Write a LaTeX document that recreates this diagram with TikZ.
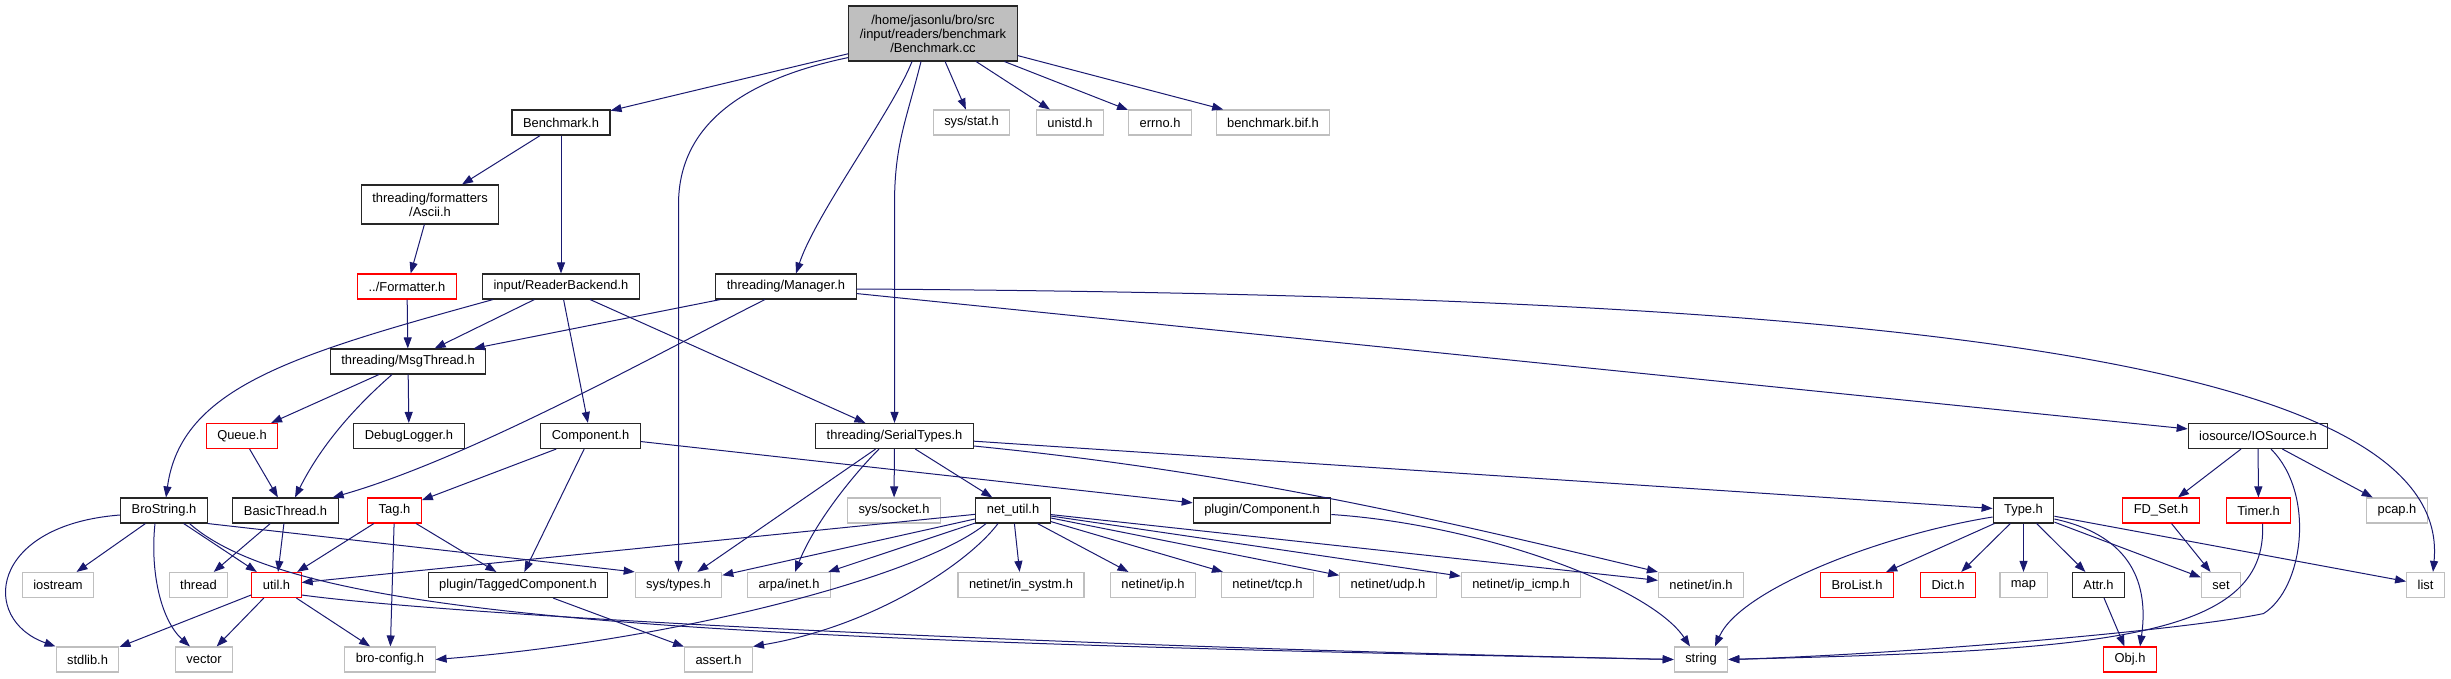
\documentclass[tikz,border=0pt]{standalone}
\usepackage{fontspec}
\setmainfont{Liberation Sans}
\usepackage{tikz}
\usetikzlibrary{arrows.meta, calc}
\definecolor{edgeblue}{RGB}{25, 25, 112}
\definecolor{sysgrey}{RGB}{191, 191, 191}
\definecolor{truncred}{RGB}{255, 0, 0}
\definecolor{srcfill}{RGB}{191, 191, 191}

\begin{document}
\begin{tikzpicture}[x=1pt, y=-1pt]
    % Styles
    \tikzstyle{hdr} = [rectangle, draw, line width=1.1pt, fill=white, minimum height=25pt, inner xsep=11pt, inner ysep=2pt, align=center, font=\fontsize{12.9}{14}\selectfont]
    \tikzstyle{doc} = [hdr, draw=black!85]
    \tikzstyle{trunc} = [hdr, draw=truncred]
    \tikzstyle{sys} = [hdr, draw=sysgrey]
    \tikzstyle{src} = [hdr, draw=black!85, fill=srcfill, minimum height=55pt]
    \tikzstyle{dep} = [draw=edgeblue, line width=1pt, -{Triangle[length=11pt, width=8pt]}]

    \useasboundingbox (0,0) rectangle (2451,679);

    % Nodes
    \node (bcc) [src] at (933, 33.5) {/home/jasonlu/bro/src\\/input/readers/benchmark\\/Benchmark.cc};

    \node (bh) [doc] at (561, 122.5) {Benchmark.h};
    \node (sysstat) [sys] at (971.5, 122.5) {sys/stat.h};
    \node (unistd) [sys] at (1070, 122.5) {unistd.h};
    \node (errno) [sys] at (1160, 122.5) {errno.h};
    \node (bif) [sys] at (1273, 122.5) {benchmark.bif.h};

    \node (ascii) [doc, minimum height=39pt] at (430, 204.5) {threading/formatters\\/Ascii.h};

    \node (formatter) [trunc] at (407, 286.5) {../Formatter.h};
    \node (readerbackend) [doc] at (561, 286.5) {input/ReaderBackend.h};
    \node (manager) [doc] at (786, 286.5) {threading/Manager.h};

    \node (msgthread) [doc] at (408, 361.5) {threading/MsgThread.h};

    \node (queue) [trunc] at (242, 436) {Queue.h};
    \node (debuglogger) [doc] at (409, 436) {DebugLogger.h};
    \node (component) [doc] at (590.5, 436) {Component.h};
    \node (serialtypes) [doc] at (894.5, 436) {threading/SerialTypes.h};
    \node (iosource) [doc] at (2258, 436) {iosource/IOSource.h};

    \node (brostring) [doc] at (164, 510.5) {BroString.h};
    \node (basicthread) [doc] at (285.5, 510.5) {BasicThread.h};
    \node (tag) [trunc] at (394.5, 510.5) {Tag.h};
    \node (syssocket) [sys] at (894, 510.5) {sys/socket.h};
    \node (netutil) [doc] at (1013, 510.5) {net\_util.h};
    \node (plugincomp) [doc] at (1262, 510.5) {plugin/Component.h};
    \node (typeh) [doc] at (2023.5, 510.5) {Type.h};
    \node (fdset) [trunc] at (2161, 510.5) {FD\_Set.h};
    \node (timer) [trunc] at (2258.5, 510.5) {Timer.h};
    \node (pcap) [sys] at (2397, 510.5) {pcap.h};

    \node (iostream) [sys] at (58, 585) {iostream};
    \node (thread) [sys] at (198.5, 585) {thread};
    \node (util) [trunc] at (276.5, 585) {util.h};
    \node (taggedcomp) [doc] at (518, 585) {plugin/TaggedComponent.h};
    \node (systypes) [sys] at (678.5, 585) {sys/types.h};
    \node (arpainet) [sys] at (789, 585) {arpa/inet.h};
    \node (insystm) [sys] at (1021, 585) {netinet/in\_systm.h};
    \node (ip) [sys] at (1153, 585) {netinet/ip.h};
    \node (tcp) [sys] at (1267.5, 585) {netinet/tcp.h};
    \node (udp) [sys] at (1388, 585) {netinet/udp.h};
    \node (ipicmp) [sys] at (1521, 585) {netinet/ip\_icmp.h};
    \node (netin) [sys] at (1701, 585) {netinet/in.h};
    \node (brolist) [trunc] at (1857, 585) {BroList.h};
    \node (dict) [trunc] at (1948, 585) {Dict.h};
    \node (map) [sys] at (2023.5, 585) {map};
    \node (attr) [doc] at (2098.5, 585) {Attr.h};
    \node (set) [sys] at (2221, 585) {set};
    \node (list) [sys] at (2425.5, 585) {list};

    \node (stdlib) [sys] at (87.5, 659.5) {stdlib.h};
    \node (vector) [sys] at (204, 659.5) {vector};
    \node (broconfig) [sys] at (390, 659.5) {bro-config.h};
    \node (assert) [sys] at (718.5, 659.5) {assert.h};
    \node (string) [sys] at (1701, 659.5) {string};
    \node (obj) [trunc] at (2130, 659.5) {Obj.h};

    % Connections
    \draw[dep] (bcc) -- (bh);
    \draw[dep] ($(bcc.south west)+(0,-4)$) .. controls +(-120,25) and +(0,-70) .. (systypes.north |- ascii.center) -- (systypes.north);
    \draw[dep] ($(bcc.south)+(-21,0)$) .. controls +(-20,50) and +(20,-60) .. ($(manager.north)+(10,0)$);
    \draw[dep] ($(bcc.south)+(-12,0)$) .. controls +(-15,60) and +(0,-60) .. (serialtypes.north |- ascii.center) -- (serialtypes.north);
    \draw[dep] (bcc) -- (sysstat);
    \draw[dep] (bcc) -- (unistd);
    \draw[dep] (bcc) -- (errno);
    \draw[dep] (bcc) -- (bif);

    \draw[dep] (bh) -- (ascii);
    \draw[dep] (bh) -- (readerbackend);
    \draw[dep] (ascii) -- (formatter);
    \draw[dep] (formatter) -- (msgthread);

    \draw[dep] ($(readerbackend.south west)+(11,0)$) .. controls +(-200,55) and +(15,-110) .. ($(brostring.north)+(2,0)$);
    \draw[dep] (readerbackend) -- (msgthread);
    \draw[dep] (readerbackend) -- (component);
    \draw[dep] (readerbackend) -- (serialtypes);

    \draw[dep] (manager) -- (msgthread);
    \draw[dep] ($(manager.south)+(-21,0)$) .. controls +(-100,50) and +(140,-40) .. ($(basicthread.north east)+(-6,0)$);
    \draw[dep] (manager) -- (iosource);
    \draw[dep] ($(manager.east)+(0,2.5)$) .. controls +(944,6) and +(22,-227) .. ($(list.north)+(7.5,0)$);

    \draw[dep] (msgthread) -- (queue);
    \draw[dep] ($(msgthread.south)+(-16,0)$) .. controls +(-40,35) and +(25,-50) .. ($(basicthread.north)+(9.5,0)$);
    \draw[dep] (msgthread) -- (debuglogger);
    \draw[dep] (queue) -- (basicthread);

    \draw[dep] (component) -- (tag);
    \draw[dep] (component) -- (taggedcomp);
    \draw[dep] (component) -- (plugincomp);

    \draw[dep] (serialtypes) -- (systypes);
    \draw[dep] ($(serialtypes.south)+(-15.5,0)$) .. controls +(-25,25) and +(20,-50) .. ($(arpainet.north)+(6,0)$);
    \draw[dep] (serialtypes) -- (syssocket);
    \draw[dep] (serialtypes) -- (netutil);
    \draw[dep] (serialtypes) -- (typeh);
    \draw[dep] ($(serialtypes.east)+(0,10)$) .. controls +(250,25) and +(-250,-60) .. (netin.north west);

    \draw[dep] (iosource) -- (fdset);
    \draw[dep] (iosource) -- (timer);
    \draw[dep] (iosource) -- (pcap);
    \draw[dep] ($(iosource.south)+(13,0)$) .. controls +(45,45) and +(40,-25) .. ($(timer.south)+(5,90)$) .. controls +(-80,17) and +(170,-5) .. (string.east);

    \draw[dep] ($(brostring.west)+(0,4.5)$) .. controls +(-131,10) and +(-76,-27) .. (stdlib.north west);
    \draw[dep] (brostring) -- (iostream);
    \draw[dep] ($(brostring.south)+(-9,0)$) .. controls +(-5,47) and +(-29.5,-27) .. ($(vector.north west)+(15,0)$);
    \draw[dep] (brostring) -- (util);
    \draw[dep] (brostring.south east) -- (systypes.north west);
    \draw[dep] ($(brostring.south)+(25.5,0)$) .. controls +(110.5,97) and +(-974,-19.5) .. (string.west);

    \draw[dep] (basicthread) -- (thread);
    \draw[dep] (basicthread) -- (util);

    \draw[dep] (tag) -- (util);
    \draw[dep] (tag) -- (broconfig);
    \draw[dep] (tag) -- (taggedcomp);

    \draw[dep] (netutil) -- (util);
    \draw[dep] (netutil) -- (systypes);
    \draw[dep] (netutil) -- (arpainet);
    \draw[dep] ($(netutil.south)+(-27,0)$) .. controls +(-60,50) and +(250,-20) .. (broconfig.east);
    \draw[dep] ($(netutil.south)+(-15,0)$) .. controls +(-30,40) and +(120,-20) .. (assert.north east);
    \draw[dep] (netutil) -- (insystm);
    \draw[dep] (netutil) -- (ip);
    \draw[dep] (netutil) -- (tcp);
    \draw[dep] (netutil) -- (udp);
    \draw[dep] (netutil) -- (ipicmp);
    \draw[dep] (netutil) -- (netin);

    \draw[dep] ($(plugincomp.east)+(0,4)$) .. controls +(150,10) and +(-40,-60) .. ($(string.north)+(-11,0)$);

    \draw[dep] ($(typeh.west)+(0,6.5)$) .. controls +(-112,18) and +(25,-57) .. ($(string.north)+(14,0)$);
    \draw[dep] (typeh) -- (brolist);
    \draw[dep] (typeh) -- (dict);
    \draw[dep] (typeh) -- (map);
    \draw[dep] (typeh) -- (attr);
    \draw[dep] ($(typeh.east)+(0,8.5)$) .. controls +(70,15) and +(10,-70) .. ($(obj.north)+(10,0)$);
    \draw[dep] (typeh) -- (set);
    \draw[dep] (typeh) -- (list);

    \draw[dep] (fdset) -- (set);
    \draw[dep] ($(timer.south)+(4,0)$) .. controls +(6,116.5) and +(371.5,-9.5) .. (string.east);
    \draw[dep] (attr) -- (obj);

    \draw[dep] (util) -- (stdlib);
    \draw[dep] (util) -- (vector);
    \draw[dep] (util) -- (broconfig);
    \draw[dep] ($(util.east)+(0,10)$) .. controls +(148,20) and +(-674,-14.5) .. (string.west);

    \draw[dep] (taggedcomp) -- (assert);
\end{tikzpicture}
\end{document}
